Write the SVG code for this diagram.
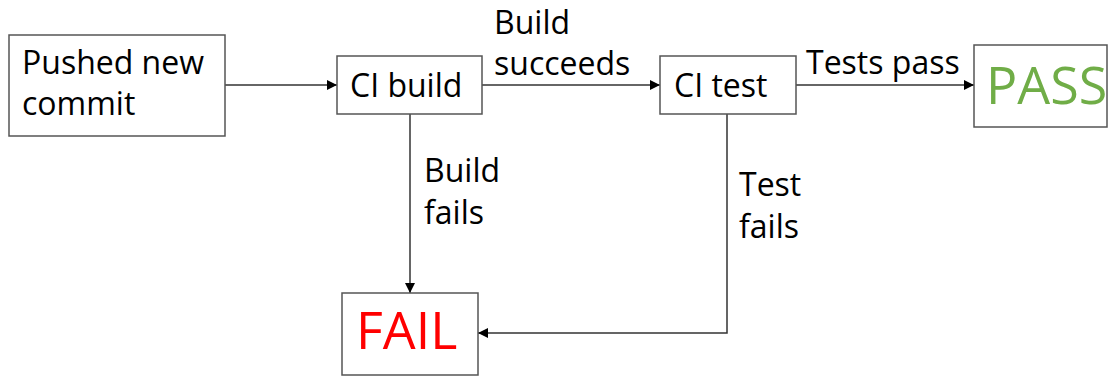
<svg xmlns="http://www.w3.org/2000/svg" width="1120" height="376" viewBox="0 0 1120 376">
<defs>
<marker id="ah" viewBox="0 0 10 10" refX="10" refY="5" markerWidth="10" markerHeight="10" markerUnits="userSpaceOnUse" orient="auto">
<path d="M0,0 L10,5 L0,10 z" fill="#000"/>
</marker>
<style>
.box{fill:#fff;stroke:#555;stroke-width:1.5}
.t{font-family:"Open Sans","Noto Sans",sans-serif;font-size:32px;fill:#000}
.big{font-family:"Open Sans","Noto Sans",sans-serif;font-size:52px}
.c{stroke:#333;stroke-width:1.5;fill:none;marker-end:url(#ah)}
</style>
</defs>
<rect width="1120" height="376" fill="#fff"/>
<g id="connectors">
<line class="c" x1="225" y1="85" x2="337" y2="85"/>
<line class="c" x1="482" y1="85" x2="660" y2="85"/>
<line class="c" x1="796" y1="85" x2="974" y2="85"/>
<line class="c" x1="410" y1="114" x2="410" y2="293"/>
<polyline class="c" points="727,114 727,333 478,333"/>
<text class="t" x="494" y="34">Build</text>
<text class="t" x="494" y="75">succeeds</text>
<text class="t" x="806" y="74">Tests pass</text>
<text class="t" x="424" y="182">Build</text>
<text class="t" x="424" y="224">fails</text>
<text class="t" x="739" y="196">Test</text>
<text class="t" x="739" y="238">fails</text>
</g>
<g id="pushed">
<rect class="box" x="9" y="35" width="216" height="101"/>
<text class="t" x="22" y="74">Pushed new</text>
<text class="t" x="22" y="115">commit</text>
</g>
<g id="cibuild">
<rect class="box" x="337" y="56" width="145" height="58"/>
<text class="t" x="350" y="97">CI build</text>
</g>
<g id="citest">
<rect class="box" x="660" y="56" width="136" height="58"/>
<text class="t" x="674" y="97">CI test</text>
</g>
<g id="pass">
<rect class="box" x="974" y="45" width="133" height="82"/>
<text class="big" x="986" y="104" fill="#70AD47">PASS</text>
</g>
<g id="fail">
<rect class="box" x="342" y="293" width="136" height="82"/>
<text class="big" x="356" y="349" fill="#FF0000">FAIL</text>
</g>
</svg>
